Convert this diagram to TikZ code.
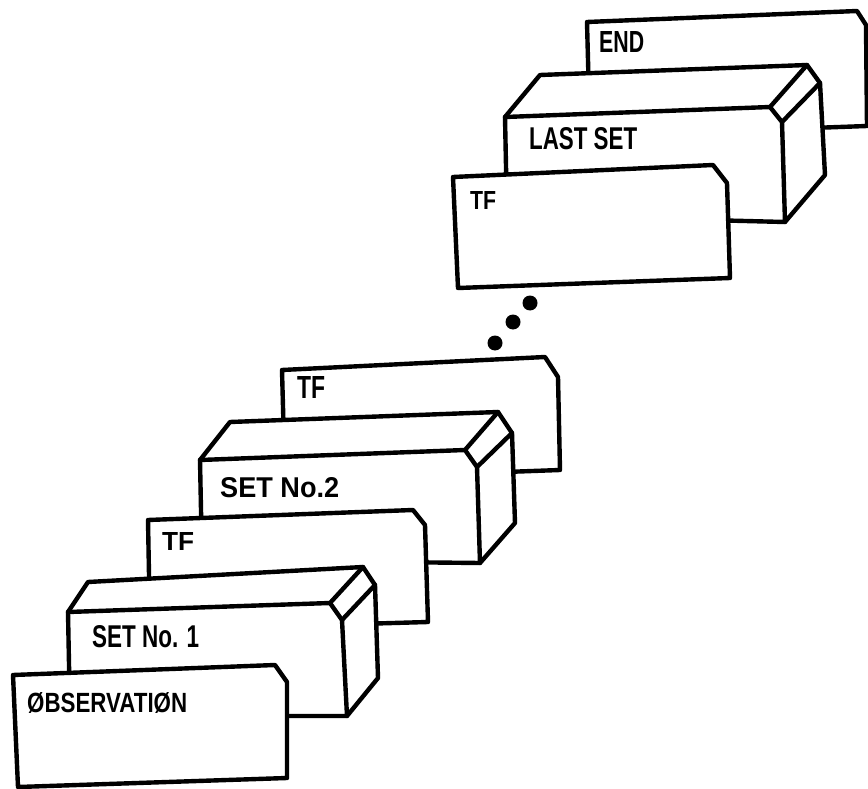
\documentclass[tikz,border=0pt]{standalone}
\usepackage{fontspec}
\setmainfont{Liberation Sans}
\newcommand{\cardlabel}[3]{\resizebox{#1pt}{#2pt}{#3}}
\begin{document}
\begin{tikzpicture}[x=1pt,y=-1pt,line width=4.4pt,line join=round,line cap=round,
  face/.style={draw=black,fill=white},
  lab/.style={anchor=base west,inner sep=0pt,font=\bfseries\fontsize{28}{30}\selectfont},
  dotmark/.style={circle,fill=black,inner sep=0pt,minimum size=15pt}]
\useasboundingbox (0,0) rectangle (868,789);

% END card
\draw[face] (587,22) -- (857,11) -- (866,25) -- (867,126) -- (590,136) -- cycle;
\node[lab] (endl) at (597,53) {\cardlabel{45}{21}{END}};

% LAST SET box
\coordinate (aftl) at (505,117); \coordinate (aftr) at (770,107);
\coordinate (afc) at (782,122);  \coordinate (afbr) at (785,222);
\coordinate (afbl) at (507,215);
\coordinate (abtl) at (540,75);  \coordinate (abtr) at (807,65);
\coordinate (abc) at (820,83);   \coordinate (abbr) at (825,175);
\draw[face] (abtl) -- (abtr) -- (abc) -- (abbr) -- (afbr) -- (afbl) -- (aftl) -- cycle;
\draw (aftl) -- (aftr) -- (afc) -- (afbr);
\draw (aftr) -- (abtr);
\draw (afc) -- (abc);
\node[lab] (lastl) at (527,150) {\cardlabel{108}{22}{LAST SET}};

% TF top card
\draw[face] (453,177) -- (713,165) -- (727,183) -- (730,278) -- (458,288) -- cycle;
\node[lab] (tf3) at (468,209) {\cardlabel{26}{18}{TF}};

% dots
\node[dotmark] (d1) at (530,303) {};
\node[dotmark] (d2) at (513,322) {};
\node[dotmark] (d3) at (495,343) {};

% TF middle card
\draw[face] (282,370) -- (545,357) -- (558,377) -- (560,470) -- (285,480) -- cycle;
\node[lab] (tf2) at (295,398) {\cardlabel{28}{22}{TF}};

% SET No.2 box
\coordinate (bftl) at (200,460); \coordinate (bftr) at (465,450);
\coordinate (bfc) at (477,467);  \coordinate (bfbr) at (480,563);
\coordinate (bfbl) at (202,560);
\coordinate (bbtl) at (230,422); \coordinate (bbtr) at (498,412);
\coordinate (bbc) at (512,433);  \coordinate (bbbr) at (515,523);
\draw[face] (bbtl) -- (bbtr) -- (bbc) -- (bbbr) -- (bfbr) -- (bfbl) -- (bftl) -- cycle;
\draw (bftl) -- (bftr) -- (bfc) -- (bfbr);
\draw (bftr) -- (bbtr);
\draw (bfc) -- (bbc);
\node[lab] (set2) at (218,497) {\cardlabel{119}{20}{SET No.2}};

% TF lower card
\draw[face] (148,520) -- (413,510) -- (425,525) -- (428,622) -- (150,630) -- cycle;
\node[lab] (tf1) at (160,550) {\cardlabel{32}{18}{TF}};

% SET No.1 box
\coordinate (cftl) at (68,612);  \coordinate (cftr) at (330,603);
\coordinate (cfc) at (342,620);  \coordinate (cfbr) at (347,716);
\coordinate (cfbl) at (70,716);
\coordinate (cbtl) at (88,582);  \coordinate (cbtr) at (363,567);
\coordinate (cbc) at (375,585);  \coordinate (cbbr) at (378,678);
\draw[face] (cbtl) -- (cbtr) -- (cbc) -- (cbbr) -- (cfbr) -- (cfbl) -- (cftl) -- cycle;
\draw (cftl) -- (cftr) -- (cfc) -- (cfbr);
\draw (cftr) -- (cbtr);
\draw (cfc) -- (cbc);
\node[lab] (set1) at (90,647) {\cardlabel{107}{22}{SET No. 1}};

% OBSERVATION card
\draw[face] (13,675) -- (275,665) -- (287,682) -- (287,778) -- (18,787) -- cycle;
\node[lab] (obs) at (25,712) {\cardlabel{160}{20}{ØBSERVATIØN}};
\end{tikzpicture}
\end{document}
